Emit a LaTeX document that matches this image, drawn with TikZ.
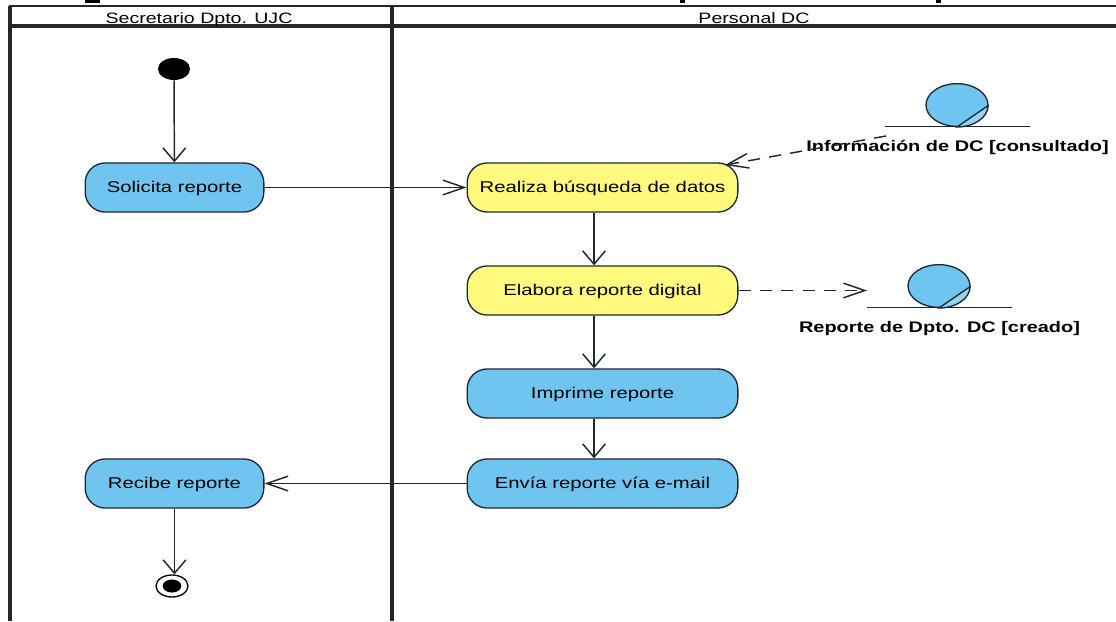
\documentclass[tikz,border=0pt]{standalone}
\usepackage{fontspec}
\setmainfont{Liberation Sans}
\newfontfamily\umlfont[FakeStretch=1.3]{Liberation Sans}
\usetikzlibrary{%
	calc,%
	arrows.meta,%
	shapes
}
\definecolor{actblue}{RGB}{112,197,240}
\definecolor{actyellow}{RGB}{255,250,125}
\definecolor{objlight}{RGB}{150,210,240}
\definecolor{umlline}{RGB}{30,40,50}
\tikzset{
	lane/.style={line width=2.4pt, black!85},
	activity/.style={draw=umlline, line width=1pt, rounded corners=15pt, minimum width=134pt, minimum height=36.8pt, inner sep=0pt, text height=9pt, text depth=1pt, font=\umlfont\fontsize{11.7}{13}\selectfont},
	activitywide/.style={activity, minimum width=203pt},
	vflow/.style={line width=1.1pt, umlline, -{Straight Barb[length=10pt,width=17pt]}},
	hflow/.style={line width=1.1pt, umlline, -{Straight Barb[length=16pt,width=11pt]}},
	objflow/.style={hflow, dash pattern=on 9pt off 7pt},
	objcircle/.style={ellipse, draw=umlline, line width=1pt, fill=actblue, minimum width=46.5pt, minimum height=32pt, inner sep=0pt},
	objlabel/.style={inner sep=0pt, text height=8pt, text depth=0pt, font=\umlfont\bfseries\fontsize{11.5}{13}\selectfont},
	lanetitle/.style={inner sep=0pt, text height=8pt, text depth=0pt, font=\umlfont\fontsize{11.3}{13}\selectfont}
}
\begin{document}
\begin{tikzpicture}[x=0.75pt,y=-0.75pt]
	\useasboundingbox (0,0) rectangle (1116,621);
	
	% Remains of the cut off title
	\fill (85,0) rectangle (100,3);
	\fill (680,0) rectangle (685,3);
	\fill (936,0) rectangle (941,3);
	
	% Swimlanes
	\draw[lane] (10,621) -- (10,6);
	\draw[lane, line width=1.6pt] (9,6) -- (1116,6);
	\draw[lane] (10,26) -- (1116,26);
	\draw[lane] (392,6) -- (392,621);
	\node[lanetitle] (laneA) at (199,18) {Secretario Dpto. UJC};
	\node[lanetitle] (laneB) at (754,18) {Personal DC};
	
	% Start and end
	\node[ellipse, fill=black, minimum width=24pt, minimum height=16.5pt, inner sep=0pt] (start) at (174,69) {};
	\node[ellipse, draw=black, line width=1pt, minimum width=24pt, minimum height=16.5pt, inner sep=0pt] (finish) at (172,586) {};
	\fill[black] (finish) ellipse (7pt and 4.9pt);
	
	% Activities
	\node[activity, fill=actblue] (solicita) at (174.5,187.5) {Solicita reporte};
	\node[activity, fill=actblue] (recibe) at (174.5,483.5) {Recibe reporte};
	\node[activitywide, fill=actyellow] (realiza) at (602.5,187.5) {Realiza búsqueda de datos};
	\node[activitywide, fill=actyellow] (elabora) at (602.5,290.5) {Elabora reporte digital};
	\node[activitywide, fill=actblue] (imprime) at (602.5,393.5) {Imprime reporte};
	\node[activitywide, fill=actblue] (envia) at (602.5,483.5) {Envía reporte vía e-mail};
	
	% Objects
	\foreach \objname/\cx/\cy/\xa/\xb/\txt/\ty in {info/957/105/885/1030/{Información de DC [consultado]}/146, rep/939/286/867/1012/{Reporte de Dpto. DC [creado]}/327} {
		\node[objcircle] (\objname) at (\cx,\cy) {};
		\draw[fill=objlight, draw=umlline, line width=1pt] (\objname.south) arc[start angle=-90, end angle=0, x radius=23.25pt, y radius=16pt] -- cycle;
		\coordinate (\objname L) at (\xa,\cy+21.5);
		\coordinate (\objname R) at (\xb,\cy+21.5);
		\draw[line width=1pt, umlline] (\objname L) -- (\objname R);
		\node[objlabel] (\objname text) at ({(\xa+\xb)/2},\ty) {\txt};
	}
	
	% Flows
	\coordinate (flowx) at (594,0);
	\coordinate (infoOut) at (886,136);
	\coordinate (realizaIn) at (725,165);
	\draw[vflow] (start) -- (solicita);
	\draw[hflow] (solicita) -- (realiza);
	\draw[vflow] (realiza.south -| flowx) -- (elabora.north -| flowx);
	\draw[vflow] (elabora.south -| flowx) -- (imprime.north -| flowx);
	\draw[vflow] (imprime.south -| flowx) -- (envia.north -| flowx);
	\draw[hflow] (envia) -- (recibe);
	\draw[vflow] (recibe.south) -- (recibe.south |- finish.north);
	\draw[objflow] (infoOut) -- (realizaIn);
	\draw[objflow] (elabora) -- (repL |- elabora);
\end{tikzpicture}
\end{document}
